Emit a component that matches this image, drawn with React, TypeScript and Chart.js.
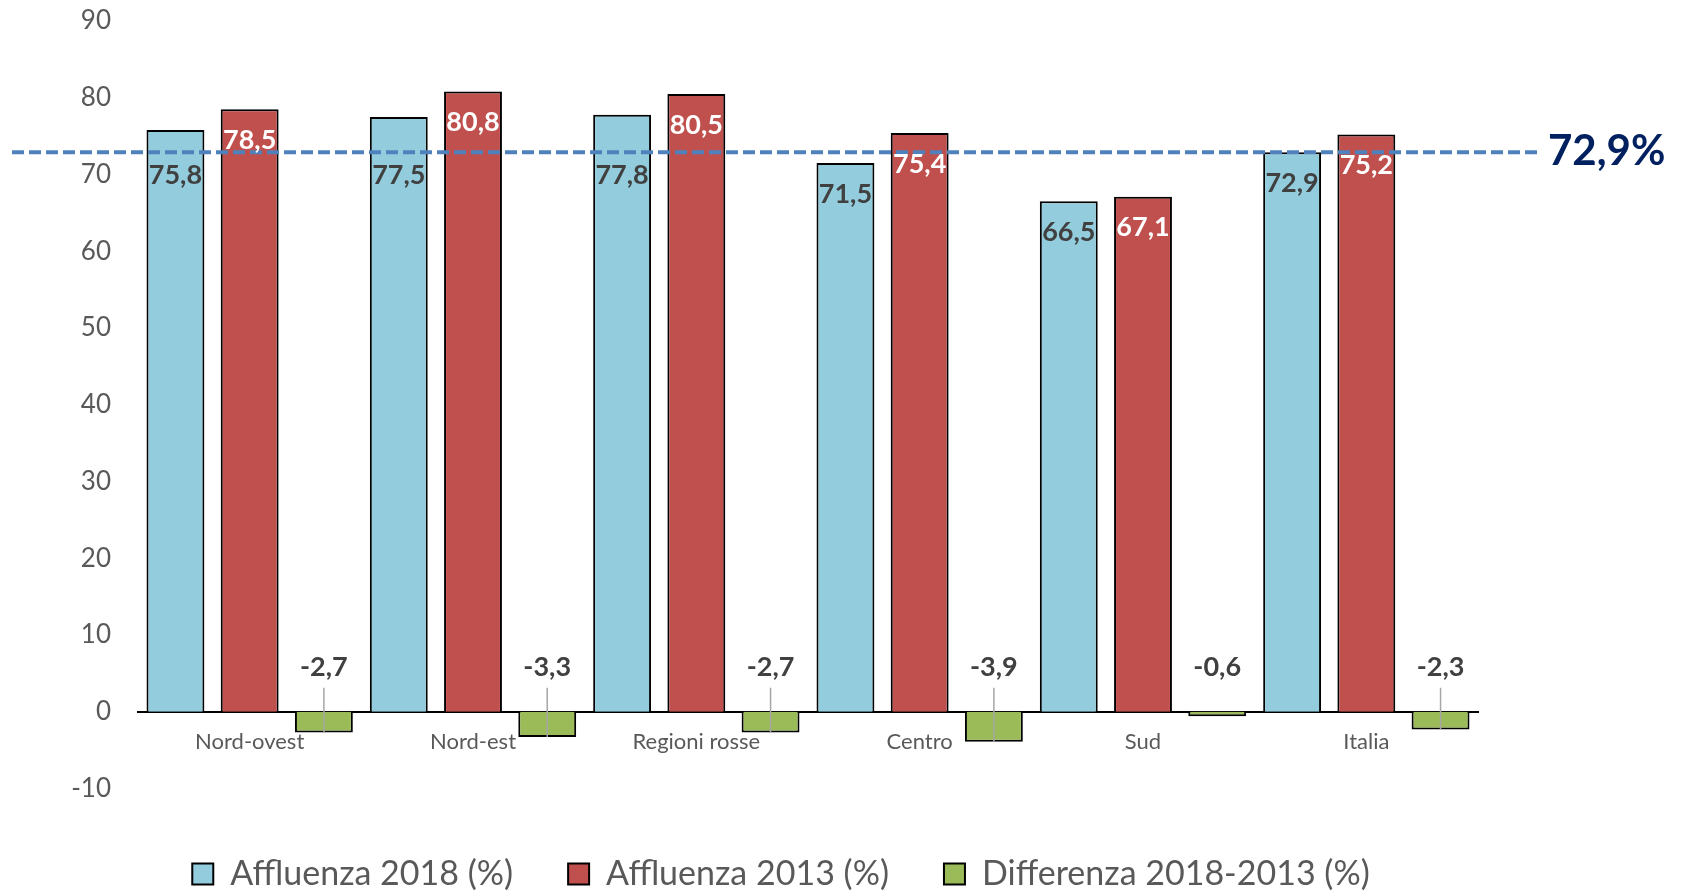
import React, { useEffect, useRef } from "react";
import { Chart, registerables } from "chart.js";

Chart.register(...registerables);

// ---- data ----
const categories = ["Nord-ovest", "Nord-est", "Regioni rosse", "Centro", "Sud", "Italia"];
const affluenza2018 = [75.8, 77.5, 77.8, 71.5, 66.5, 72.9];
const affluenza2013 = [78.5, 80.8, 80.5, 75.4, 67.1, 75.2];
const differenza = [-2.7, -3.3, -2.7, -3.9, -0.6, -2.3];
const seriesNames = ["Affluenza 2018 (%)", "Affluenza 2013 (%)", "Differenza 2018-2013 (%)"];
const yMin = -10;
const yMax = 90;
const yStep = 10;
const italiaReference = 72.9;
const referenceLabel = "72,9%";

const FONT = "Lato";

const fmt = (v: number) => v.toFixed(1).replace(".", ",");

// draw text vertically centred on its digits (cap height ~0.72em for Lato)
const drawCentered = (ctx: CanvasRenderingContext2D, text: string, x: number, cy: number, size: number) => {
  ctx.textBaseline = "alphabetic";
  ctx.fillText(text, x, cy + size * 0.36);
};

const annotationPlugin = {
  id: "annotationPlugin",
  afterDatasetsDraw(chart: any) {
    const { ctx, chartArea, scales } = chart;
    const yScale = scales.y;
    const lineY = yScale.getPixelForValue(italiaReference);
    const zeroY = yScale.getPixelForValue(0);
    ctx.save();

    // reference dashed line
    ctx.strokeStyle = "#4f81bd";
    ctx.lineWidth = 4;
    ctx.setLineDash([12, 5]);
    ctx.beginPath();
    ctx.moveTo(chartArea.left - 126, lineY);
    ctx.lineTo(chartArea.right + 61, lineY);
    ctx.stroke();
    ctx.setLineDash([]);

    ctx.font = `bold 42px ${FONT}`;
    ctx.fillStyle = "#002060";
    ctx.textAlign = "left";
    drawCentered(ctx, referenceLabel, chartArea.right + 70, lineY - 2, 42);

    // data labels
    const size = 27;
    ctx.font = `bold ${size}px ${FONT}`;
    ctx.textAlign = "center";
    chart.data.datasets.forEach((ds: any, di: number) => {
      const meta = chart.getDatasetMeta(di);
      meta.data.forEach((bar: any, i: number) => {
        const v = ds.data[i] as number;
        const text = fmt(v);
        if (v < 0) {
          const cy = zeroY - 45;
          if (Math.abs(v) >= 1) {
            ctx.strokeStyle = "#a6a6a6";
            ctx.lineWidth = 1.5;
            ctx.beginPath();
            ctx.moveTo(bar.x, cy + 21);
            ctx.lineTo(bar.x, bar.y);
            ctx.stroke();
          }
          ctx.fillStyle = "#404040";
          drawCentered(ctx, text, bar.x, cy, size);
        } else {
          let cy = bar.y + 30;
          if (Math.abs(cy - lineY) < 9) cy = di === 0 ? lineY + 22 : lineY - 14;
          ctx.fillStyle = di === 0 ? "#404040" : "#ffffff";
          drawCentered(ctx, text, bar.x, cy, size);
        }
      });
    });
    ctx.restore();
  },
};

export default function App() {
  const ref = useRef<HTMLCanvasElement | null>(null);

  useEffect(() => {
    if (!ref.current) return;
    Chart.defaults.font.family = FONT;
    const chart = new Chart(ref.current, {
      type: "bar",
      data: {
        labels: categories,
        datasets: [
          { label: seriesNames[0], data: affluenza2018, xAxisID: "x", yAxisID: "y", backgroundColor: "#93cddd", borderColor: "#000000", borderWidth: 2 },
          { label: seriesNames[1], data: affluenza2013, xAxisID: "x", yAxisID: "y", backgroundColor: "#c0504d", borderColor: "#000000", borderWidth: 2 },
          { label: seriesNames[2], data: differenza, xAxisID: "x", yAxisID: "y", backgroundColor: "#9bbb59", borderColor: "#000000", borderWidth: 2 },
        ],
      },
      options: {
        responsive: false,
        animation: false,
        layout: { padding: { top: 21, left: 0, right: 124, bottom: 0 } },
        datasets: { bar: { categoryPercentage: 0.997, barPercentage: 0.78 } } as any,
        plugins: {
          legend: {
            position: "bottom",
            maxHeight: 88,
            labels: {
              boxWidth: 21,
              boxHeight: 21,
              padding: 55,
              color: "#595959",
              font: { size: 34, family: FONT },
            },
          } as any,
          tooltip: { enabled: false },
        },
        scales: {
          x: {
            position: { y: 0 } as any,
            grid: { display: false, drawTicks: false },
            border: { display: true, color: "#000000", width: 2 },
            ticks: { color: "#595959", font: { size: 22, family: FONT }, padding: 17, autoSkip: false, maxRotation: 0 },
          },
          x2: {
            type: "category",
            position: "bottom",
            grid: { display: false, drawTicks: false },
            border: { display: false },
            ticks: { display: false },
            afterFit: (s: any) => { s.height = 13.5; },
          },
          y: {
            min: yMin,
            max: yMax,
            ticks: { stepSize: yStep, color: "#595959", font: { size: 26, family: FONT }, padding: 27 },
            grid: { display: false, drawTicks: false },
            border: { display: false },
            afterFit: (s: any) => { s.width = 138; s.paddingTop = 0; s.paddingBottom = 0; },
          },
          y2: {
            position: "right",
            grid: { display: false, drawTicks: false },
            border: { display: false },
            ticks: { display: false },
            afterFit: (s: any) => { s.width = 84; },
          },
        },
      },
      plugins: [annotationPlugin],
    });
    return () => chart.destroy();
  }, []);

  return (
    <div style={{ position: "fixed", left: 0, top: 0, width: 1686, height: 890, background: "#ffffff" }}>
      <canvas ref={ref} width={1686} height={890} style={{ display: "block" }} />
    </div>
  );
}
